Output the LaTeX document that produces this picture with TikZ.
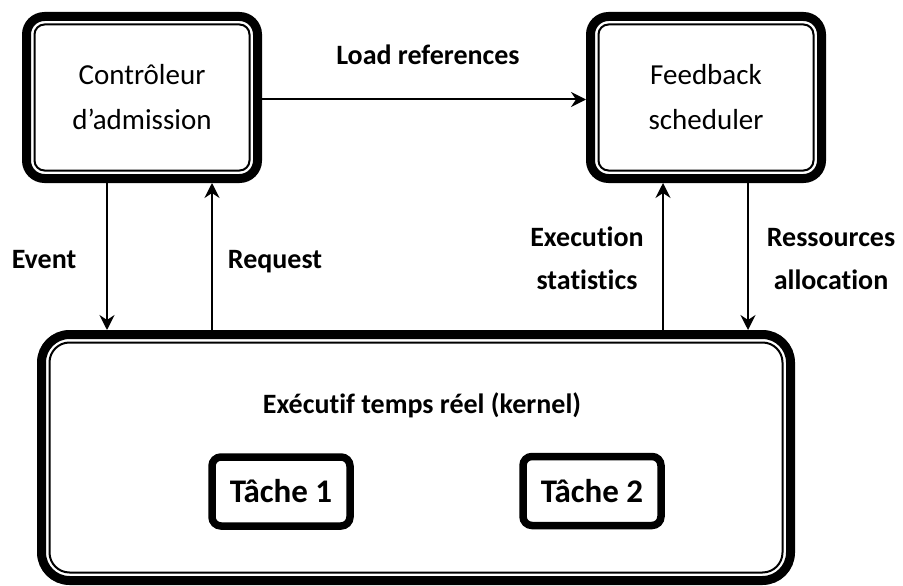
\documentclass[tikz,border=0pt]{standalone}
\usepackage{fontspec}
\setmainfont{Carlito}[Ligatures={NoCommon}]
\usetikzlibrary{arrows.meta}
\begin{document}
\begin{tikzpicture}[x=1pt,y=-1pt,
  outerbox/.style={draw, line width=9pt, rounded corners=18pt, minimum width=231pt,
    minimum height=162pt, align=center, inner sep=0pt,
    font=\fontsize{29}{45}\selectfont},
  innerline/.style={line width=2pt, rounded corners=10pt},
  taskbox/.style={draw, line width=7.5pt, rounded corners=9pt, minimum width=138pt,
    minimum height=69pt, inner sep=0pt, font=\bfseries\fontsize{33}{40}\selectfont},
  lbl/.style={font=\bfseries\fontsize{28}{43}\selectfont, align=center, inner sep=0pt},
  arr/.style={line width=2pt, -{Stealth[length=15pt,width=15pt,inset=5pt]}}]
\fill[white] (0,0) rectangle (903,586);
\useasboundingbox (0,0) rectangle (903,586);

% boxes
\node[outerbox] (ctrl) at (142,97.5) {Contrôleur\\d’admission};
\draw[innerline] ([shift={(12.5,12.5)}]ctrl.north west) rectangle ([shift={(-12.5,-12.5)}]ctrl.south east);

\node[outerbox] (fb) at (706,97.5) {Feedback\\scheduler};
\draw[innerline] ([shift={(12.5,12.5)}]fb.north west) rectangle ([shift={(-12.5,-12.5)}]fb.south east);

\node[outerbox, rounded corners=28pt, minimum width=749pt, minimum height=246pt] (kern) at (416,457.5) {};
\draw[innerline, rounded corners=20pt] ([shift={(12.5,12.5)}]kern.north west) rectangle ([shift={(-12.5,-12.5)}]kern.south east);

\node[lbl, anchor=base] (ktext) at (422,413) {Exécutif temps réel (kernel)};
\node[taskbox] (t1) at (281,491.5) {Tâche 1};
\node[taskbox] (t2) at (592,491) {Tâche 2};

% connector x positions
\coordinate (xev) at (107,0);
\coordinate (xrq) at (212,0);
\coordinate (xex) at (663,0);
\coordinate (xra) at (748,0);

% connectors
\draw[arr] ([shift={(0,2)}]ctrl.east) -- ([shift={(0,2)}]fb.west);
\draw[arr] (ctrl.south -| xev) -- (kern.north -| xev);
\draw[arr] (kern.north -| xrq) -- (ctrl.south -| xrq);
\draw[arr] (kern.north -| xex) -- (fb.south -| xex);
\draw[arr] (fb.south -| xra) -- (kern.north -| xra);

% labels
\node[lbl, anchor=base] (lload) at (428,65) {Load references};
\node[lbl, anchor=base] (lev) at (44,268) {Event};
\node[lbl, anchor=base] (lrq) at (275,268) {Request};
\node[lbl] (lex) at (587,258.7) {Execution\\statistics};
\node[lbl] (lra) at (831,258.7) {Ressources\\allocation};
\end{tikzpicture}
\end{document}
